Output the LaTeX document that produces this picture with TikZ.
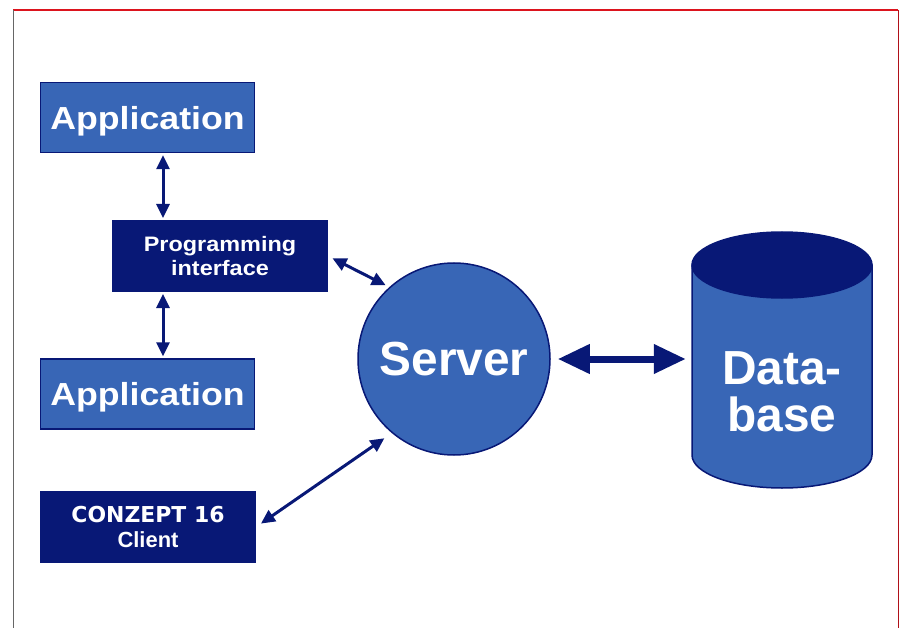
\documentclass[tikz,border=0pt]{standalone}
\usepackage{fontspec}
\setmainfont{Liberation Sans}
\newfontfamily\widefont[FakeStretch=1.12]{Liberation Sans}
\newfontfamily\heavyfont{DejaVu Sans}
\usetikzlibrary{arrows.meta}
\definecolor{lightblue}{RGB}{56,102,182}
\definecolor{navy}{RGB}{8,24,118}
\definecolor{framered}{RGB}{220,20,30}
\tikzset{
  lightbox/.style={draw=navy, line width=1.5bp, fill=lightblue, text=white, minimum width=214bp, minimum height=70bp, inner sep=0pt, text depth=0pt, font=\widefont\bfseries\fontsize{32}{36}\selectfont},
  darkbox/.style={draw=navy, line width=1bp, fill=navy, text=white, minimum width=215bp, minimum height=71bp, inner sep=0pt, align=center},
  conn/.style={draw=navy, line width=3bp, {Triangle[length=14bp,width=13bp]}-{Triangle[length=14bp,width=13bp]}},
  bigconn/.style={draw=navy, line width=7bp, {Triangle[length=32bp,width=28bp]}-{Triangle[length=32bp,width=28bp]}}
}
\begin{document}
\begin{tikzpicture}[x=1bp,y=-1bp]
\useasboundingbox (0,0) rectangle (901,628);
% frame
\draw[framered, line width=1.5bp] (13,10) -- (898,10);
\draw[gray!80!black, line width=0.8bp] (13,10) -- (13,628);
\draw[framered!80!black, line width=1bp] (898,10) -- (898,628);

% boxes
\node[lightbox] (app1) at (147.5,117.5) {Application};
\node[darkbox, font=\widefont\bfseries\fontsize{21}{25}\selectfont] (pi) at (220,256) {Programming\\interface};
\node[lightbox] (app2) at (147.5,394) {Application};
\node[darkbox, font=\bfseries\fontsize{22}{26}\selectfont] (cl) at (148,527) {{\heavyfont CONZEPT 16}\\Client};

% server
\node[circle, draw=navy, line width=1.5bp, fill=lightblue, minimum size=192bp, inner sep=0pt, text=white, font=\bfseries\fontsize{48}{50}\selectfont] (srv) at (454,359) {Server};

% database cylinder
\fill[lightblue, draw=navy, line width=1.5bp] (692,265) -- (692,455) arc[start angle=180, end angle=360, x radius=90bp, y radius=33bp] -- (872,265) -- cycle;
\draw[navy, fill=navy, line width=1.5bp] (782,265) ellipse [x radius=90bp, y radius=33bp];
\node[minimum width=180bp, minimum height=200bp, inner sep=0pt, text=white, align=center, font=\bfseries\fontsize{48}{47}\selectfont] (db) at (782,392) {Data-\\base};

% connectors
\coordinate (vx) at (163,0);
\draw[conn, shorten <=2bp, shorten >=2bp] (app1.south -| vx) -- (pi.north -| vx);
\draw[conn, shorten <=2bp, shorten >=2bp] (pi.south -| vx) -- (app2.north -| vx);
\draw[conn, shorten <=5bp, shorten >=4bp] (pi.east) -- (srv.132);
\draw[conn, shorten <=6bp, shorten >=9bp] (cl.east) -- (srv.230);
\draw[bigconn, shorten <=7bp, shorten >=6bp] (srv.east) -- (srv.east -| db.west);
\end{tikzpicture}
\end{document}
